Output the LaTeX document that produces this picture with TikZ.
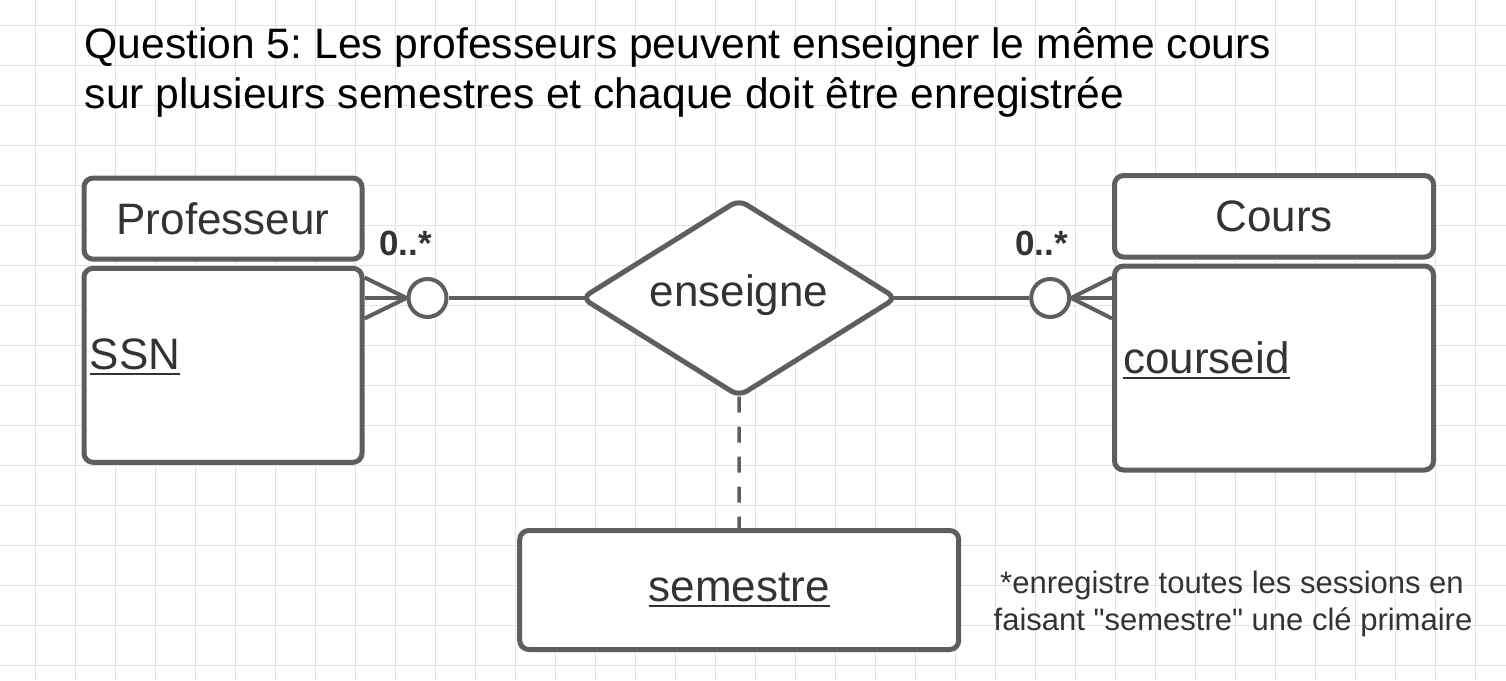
\documentclass[tikz,border=0pt]{standalone}
\usepackage{fontspec}
\setmainfont{Liberation Sans}[Ligatures=TeXOff]
\usetikzlibrary{shapes.geometric}
\definecolor{trait}{HTML}{5E5E5E}
\definecolor{encre}{HTML}{333333}
\definecolor{grille}{HTML}{E3E3E3}
\frenchspacing
% clé primaire soulignée
\newcommand{\cleprim}[1]{\setbox0\hbox{#1}\rlap{\vrule width\wd0 height-3.5pt depth 6pt}\box0}

\begin{document}
\begin{tikzpicture}[x=1pt, y=-1pt, line join=round,
    every node/.style={inner sep=0, text=encre, font=\fontsize{44}{50}\selectfont},
    boite/.style={draw=trait, line width=5, fill=white, rounded corners=9},
    lien/.style={draw=trait, line width=4},
    rond/.style={circle, draw=trait, line width=4, fill=white, minimum size=38},
    titre/.style={anchor=base west, text=black, font=\fontsize{42.6}{50}\selectfont},
    card/.style={anchor=base west, font=\fontsize{35}{40}\selectfont\bfseries},
    note/.style={anchor=base, font=\fontsize{31}{37}\selectfont}]

  \useasboundingbox (0,0) rectangle (1506,680);
  \fill[white] (0,0) rectangle (1506,680);

  % grille de fond
  \foreach \i in {0,...,36}
    \draw[grille, line width=1] (35.7+40*\i,0) -- (35.7+40*\i,680);
  \foreach \j in {0,...,16}
    \draw[grille, line width=1] (0,25.7+40*\j) -- (1506,25.7+40*\j);

  % titre
  \node[titre] (titre1) at (84.5,58.3) {Question 5: Les professeurs peuvent enseigner le même cours};
  \node[titre] (titre2) at (84.5,108.3) {sur plusieurs semestres et chaque doit être enregistrée};

  % entité Professeur
  \node[boite, minimum width=278, minimum height=81] (profnom) at (223,218.6) {Professeur};
  \node[boite, minimum width=278, minimum height=194] (profcorps) at (223,365.3) {};
  \node[anchor=base west] (ssn) at (89.7,369.3) {\cleprim{SSN}};

  % entité Cours
  \node[boite, minimum width=319, minimum height=81.5] (coursnom) at (1274,216.3) {Cours};
  \node[boite, minimum width=319, minimum height=204] (courscorps) at (1274,368) {};
  \node[anchor=base west] (courseid) at (1123,373.3) {\cleprim{courseid}};

  % association
  \node[diamond, boite, aspect=1.6, minimum width=316, minimum height=198, text depth=14] (rel) at (739,298) {enseigne};

  % attribut de l'association
  \node[boite, minimum width=439, minimum height=119] (sem) at (739.2,590) {\cleprim{semestre}};
  \draw[lien, line width=3.5, dash pattern=on 16 off 14, shorten <=-3] (rel.south) -- (sem.north);

  % cardinalités
  \node[rond] (cg) at (427.5,298) {};
  \node[rond] (cd) at (1050.2,298) {};
  \draw[lien, shorten <=-7] (rel.west) -- (cg.east);
  \draw[lien, shorten <=-7] (rel.east) -- (cd.west);
  \coordinate (pg) at (364.5,298);
  \coordinate (pd) at (1112,298);
  \foreach \dy in {-20.5,0,20.5} {
    \draw[lien] (cg.west) -- ([yshift=\dy]pg);
    \draw[lien] (cd.east) -- ([yshift=\dy]pd);
  }
  \node[card] (cardg) at (379,255) {0..*};
  \node[card] (cardd) at (1015,255) {0..*};

  % remarque
  \node[note] (note1) at (1232,593.3) {*enregistre toutes les sessions en};
  \node[note] (note2) at (1233,630) {faisant "semestre" une clé primaire};
\end{tikzpicture}
\end{document}
